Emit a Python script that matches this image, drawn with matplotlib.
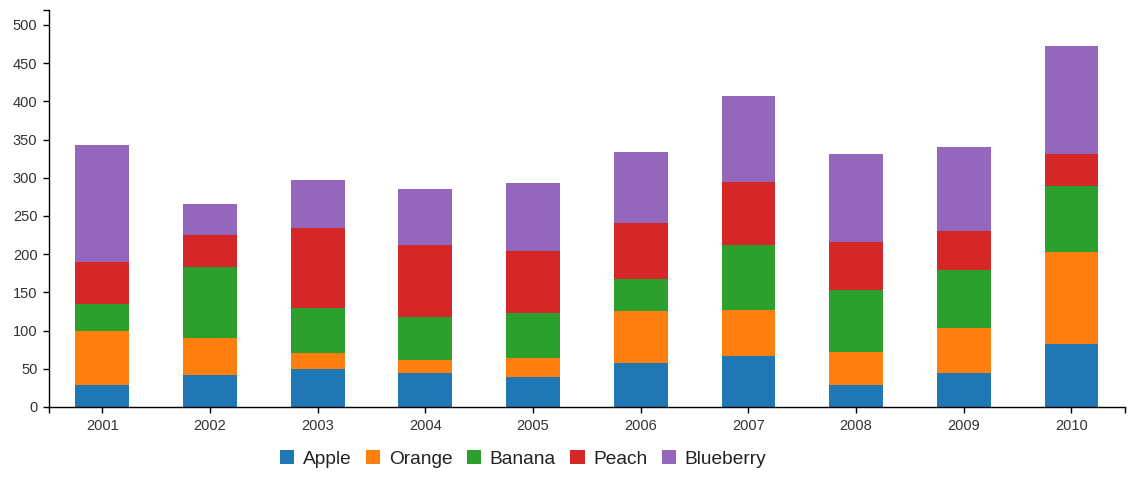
import numpy as np
import matplotlib
matplotlib.use('Agg')
import matplotlib.pyplot as plt
from matplotlib.patches import Patch

plt.rcParams['font.family'] = ['Liberation Sans', 'DejaVu Sans']

# data
years = ['2001', '2002', '2003', '2004', '2005', '2006', '2007', '2008', '2009', '2010']
fruits = ['Apple', 'Orange', 'Banana', 'Peach', 'Blueberry']
apple = [29, 42, 50, 44.5, 39, 57.5, 67, 29, 44.5, 82.5]
orange = [71, 48, 21, 17, 25, 68, 60, 43, 59, 120.5]
banana = [35, 93, 59, 56.5, 59, 42, 85, 81, 75.5, 86]
peach = [55, 42, 104, 94, 81, 73, 82, 63, 51, 42]
blueberry = [153, 40.5, 63, 73, 89, 93, 113, 115, 110, 141]
colors = ['#1f77b4', '#ff7f0e', '#2ca02c', '#d62728', '#9467bd']

series = [apple, orange, banana, peach, blueberry]

fig = plt.figure(figsize=(11.39, 4.8), dpi=100)
ax = fig.add_axes([48.5 / 1139, 1 - 407 / 480, (1125.3 - 48.5) / 1139, (407 - 9.7) / 480])

x = np.arange(len(years))
bottom = np.zeros(len(years))
for vals, col in zip(series, colors):
    ax.bar(x, vals, width=0.5, bottom=bottom, color=col, linewidth=0)
    bottom += np.array(vals)

ax.set_xlim(-0.5, len(years) - 0.5)
ax.set_ylim(0, 520)
ax.set_xticks(x)
ax.set_xticklabels(years)
ax.set_yticks(np.arange(0, 501, 50))
# outer ticks at the ends of the axes (d3 style)
ax.set_xticks([-0.5, len(years) - 0.5], minor=True)
ax.set_yticks([520], minor=True)

for s in ['top', 'right']:
    ax.spines[s].set_visible(False)
for s in ['left', 'bottom']:
    ax.spines[s].set_linewidth(1.0)

ax.tick_params(which='both', length=4.5, width=1.0, color='black',
               labelsize=10.5, labelcolor='#333333')
ax.tick_params(axis='x', pad=4.5)
ax.tick_params(axis='y', pad=3.5)

handles = [Patch(facecolor=c, edgecolor='none') for c in colors]
fig.legend(handles, fruits, loc='center', bbox_to_anchor=(523 / 1139, 1 - 459 / 480),
           ncol=5, frameon=False, fontsize=13.8, handlelength=0.75, handleheight=0.75,
           handletextpad=0.45, columnspacing=0.75, labelcolor='#222222')

fig.savefig('out.png', dpi=100)
